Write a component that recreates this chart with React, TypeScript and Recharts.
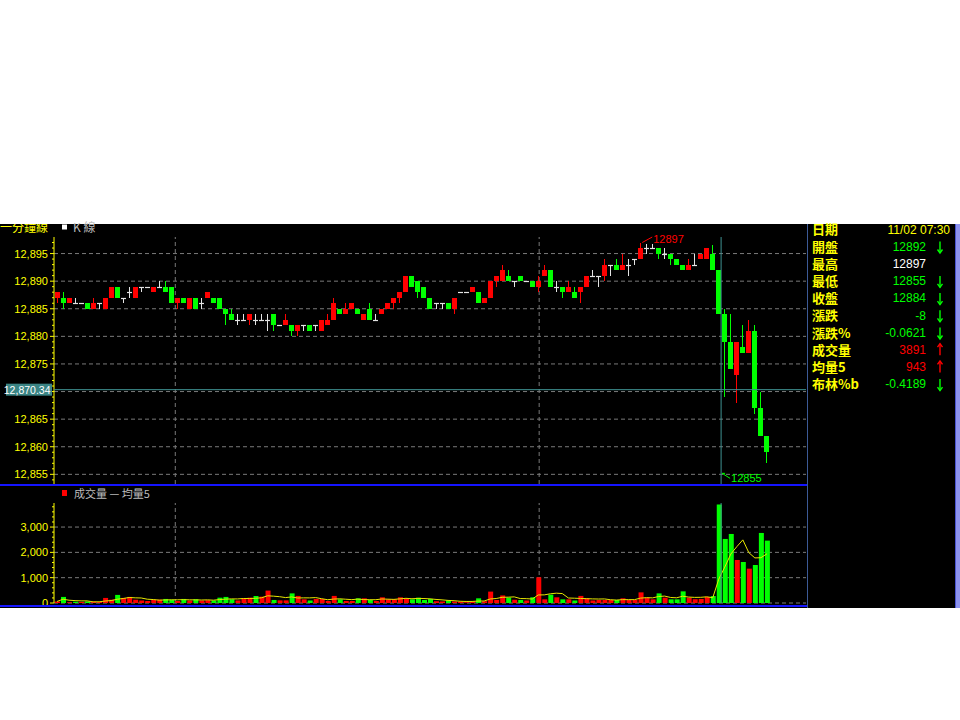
import React from "react";
import { ComposedChart, Bar, Line, XAxis, YAxis, ReferenceLine, ReferenceDot, Cell } from "recharts";

// 1-minute candles, 05:40 .. 07:38
const opens = [
  12887, 12887, 12886, 12886, 12886, 12886, 12885, 12886, 12885, 12887,
  12889, 12887, 12888, 12887, 12889, 12889, 12888, 12889, 12889, 12889,
  12886, 12887, 12885, 12887, 12886, 12887, 12887, 12887, 12885, 12884,
  12883, 12883, 12883, 12883, 12883, 12883, 12884, 12882, 12882, 12882,
  12881, 12882, 12882, 12882, 12881, 12882, 12883, 12885, 12884, 12885,
  12885, 12883, 12885, 12883, 12884, 12885, 12886, 12887, 12888, 12891,
  12890, 12889, 12887, 12886, 12886, 12886, 12885, 12888, 12888, 12888,
  12888, 12886, 12887, 12890, 12890, 12891, 12890, 12891, 12890, 12890,
  12889, 12891, 12892, 12889, 12889, 12888, 12888, 12888, 12889, 12891,
  12891, 12891, 12893, 12893, 12892, 12893, 12894, 12894, 12896, 12896,
  12896, 12895, 12895, 12894, 12893, 12892, 12893, 12894, 12894, 12895,
  12892, 12884, 12879, 12873, 12878, 12877, 12881, 12867, 12862,
];
const highs = [
  12888, 12888, 12887, 12887, 12886, 12886, 12887, 12886, 12887, 12889,
  12889, 12887, 12889, 12889, 12889, 12889, 12889, 12890, 12890, 12889,
  12887, 12887, 12887, 12887, 12887, 12888, 12887, 12887, 12885, 12885,
  12884, 12884, 12884, 12884, 12884, 12884, 12884, 12882, 12884, 12882,
  12882, 12882, 12882, 12882, 12883, 12884, 12887, 12885, 12886, 12886,
  12885, 12884, 12886, 12884, 12885, 12886, 12887, 12888, 12891, 12891,
  12890, 12889, 12887, 12886, 12886, 12886, 12887, 12888, 12888, 12889,
  12888, 12887, 12890, 12891, 12893, 12892, 12890, 12891, 12890, 12890,
  12891, 12893, 12892, 12890, 12889, 12890, 12889, 12889, 12891, 12892,
  12891, 12894, 12893, 12894, 12895, 12894, 12894, 12897, 12896.8, 12896.8,
  12896, 12896, 12895, 12894, 12893, 12894, 12895, 12895, 12896, 12896.6,
  12892, 12885, 12884, 12879, 12882, 12883, 12882, 12870, 12862,
];
const lows = [
  12886, 12885, 12886, 12886, 12886, 12885, 12885, 12885, 12885, 12887,
  12887, 12886, 12887, 12887, 12888, 12889, 12888, 12889, 12888, 12886,
  12885, 12886, 12885, 12885, 12885, 12887, 12886, 12885, 12882, 12883,
  12882, 12883, 12882, 12882, 12883, 12881, 12881, 12882, 12882, 12880,
  12880, 12881, 12881, 12881, 12881, 12882, 12883, 12884, 12884, 12885,
  12884, 12883, 12883, 12883, 12884, 12885, 12885, 12886, 12888, 12889,
  12887, 12887, 12885, 12885, 12885, 12885, 12884, 12888, 12888, 12888,
  12886, 12886, 12887, 12889, 12890, 12890, 12889, 12890, 12890, 12889,
  12888, 12891, 12889, 12888, 12887, 12888, 12887, 12886, 12889, 12891,
  12889, 12890, 12891, 12892, 12892, 12891, 12893, 12894, 12895, 12896,
  12894, 12894, 12893, 12893, 12892, 12892, 12893, 12894, 12894, 12892,
  12884, 12869, 12874, 12868, 12877, 12877, 12866, 12862, 12857,
];
const closes = [
  12888, 12886, 12887, 12886, 12886, 12885, 12886, 12886, 12887, 12889,
  12887, 12887, 12888, 12889, 12889, 12889, 12889, 12889, 12888, 12886,
  12887, 12886, 12887, 12885, 12886, 12888, 12886, 12885, 12884, 12883,
  12883, 12883, 12884, 12883, 12883, 12883, 12882, 12882, 12883, 12881,
  12882, 12882, 12881, 12882, 12883, 12883, 12886, 12884, 12885, 12886,
  12884, 12884, 12883, 12883, 12885, 12886, 12887, 12888, 12891, 12889,
  12888, 12887, 12885, 12886, 12886, 12885, 12887, 12888, 12888, 12889,
  12886, 12887, 12890, 12891, 12892, 12890, 12890, 12890, 12890, 12889,
  12890, 12892, 12889, 12889, 12888, 12889, 12887, 12889, 12891, 12891,
  12891, 12893, 12893, 12892, 12893, 12893, 12894, 12896, 12896, 12896,
  12895, 12895, 12894, 12893, 12892, 12893, 12893, 12895, 12896, 12892,
  12884, 12879, 12874, 12879, 12877, 12881, 12867, 12862, 12859,
];
const volumes = [
  60, 240, 30, 50, 40, 60, 50, 40, 200, 130,
  320, 200, 240, 130, 100, 80, 130, 130, 160, 130,
  80, 160, 100, 150, 100, 110, 100, 210, 240, 150,
  100, 190, 210, 280, 250, 490, 120, 105, 105, 380,
  280, 145, 100, 160, 160, 80, 280, 145, 80, 80,
  185, 185, 120, 80, 225, 145, 145, 225, 185, 145,
  210, 120, 160, 70, 60, 105, 60, 50, 30, 60,
  185, 70, 450, 120, 300, 210, 130, 120, 100, 225,
  1015, 145, 330, 225, 145, 145, 100, 280, 185, 100,
  120, 120, 120, 120, 185, 120, 120, 420, 210, 145,
  380, 210, 145, 145, 460, 210, 150, 160, 240, 275,
  3891, 2530, 2727, 1700, 1620, 1357, 1500, 2767, 2464,
];

// info panel
const infoLabels = ["日期", "開盤", "最高", "最低", "收盤", "漲跌", "漲跌%", "成交量", "均量5", "布林%b"];
const infoValues = ["11/02 07:30", "12892", "12897", "12855", "12884", "-8", "-0.0621", "3891", "943", "-0.4189"];
const infoDirs = ["", "down", "", "down", "down", "down", "down", "up", "up", "down"];

const hourMarks = ["06:00", "07:00"];
const cursorTime = "07:30";
const cursorPrice = 12870.34;
const lowMark = 12855;

const SLOTS = 125;
const START = 5 * 60 + 40;
const pad = (n: number) => String(n).padStart(2, "0");
const times = Array.from({ length: SLOTS }, (_, i) => `${pad(Math.floor((START + i) / 60))}:${pad((START + i) % 60)}`);

const YELLOW = "#ffff00";
const RED = "#ff0000";
const GREEN = "#00ff00";
const DOJI = "#e4e4e4";
const GRID = "#7a7a7a";
const CURSOR = "#3f9292";
const NUM_FONT = "'Liberation Sans', Arial, sans-serif";
const CJK_FONT = "'Noto Sans CJK TC', 'Noto Sans CJK SC', sans-serif";

const rows = times.map((t, i) => {
  if (i >= opens.length) return { t } as any;
  const o = opens[i], c = closes[i];
  const prev = i > 0 ? closes[i - 1] : o;
  const win = volumes.slice(Math.max(0, i - 4), i + 1);
  return {
    t, o, h: highs[i], l: lows[i], c,
    range: [lows[i], highs[i]],
    v: volumes[i],
    ma: win.reduce((a, b) => a + b, 0) / win.length,
    vColor: c > o ? RED : c < o ? GREEN : c >= prev ? RED : GREEN,
  };
});

const hiVal = Math.max(...highs);
const hiIdx = highs.indexOf(hiVal);

const priceDomain: [number, number] = [12853.25, 12898];
const priceTicks = Array.from({ length: 44 }, (_, i) => 12854 + i);
const priceGrid = [12855, 12860, 12865, 12870, 12875, 12880, 12885, 12890, 12895];
const volDomain: [number, number] = [0, 3950];
const volTicks = Array.from({ length: 20 }, (_, i) => i * 200);
const volGrid = [0, 1000, 2000, 3000];

const W = 806;
const PRICE_H = 260;
const VOL_H = 122;
const priceMargin = { top: 13, right: 0, bottom: 0, left: 0 };
const volMargin = { top: 17, right: 0, bottom: 5, left: 0 };

function AxisTick({ x, y, payload, step, hideValue }: any) {
  const v = payload.value as number;
  const major = v % step === 0;
  return (
    <g>
      <line x1={x - (major ? 4 : 2)} x2={x} y1={y} y2={y} stroke={YELLOW} />
      {major && v !== hideValue && (
        <text x={x - 6} y={y} dy={4} textAnchor="end" fill={YELLOW} fontSize={11} fontFamily={NUM_FONT}>
          {v.toLocaleString("en-US")}
        </text>
      )}
    </g>
  );
}

function Candle(props: any) {
  const { x, y, width, height, payload } = props;
  if (!payload || payload.o == null) return null;
  const { o, h, l, c } = payload;
  const top = Math.min(y, y + height);
  const span = Math.abs(height);
  const k = h > l ? span / (h - l) : 0;
  const py = (v: number) => top + (h - v) * k;
  const cx = Math.round(x + width / 2 - 0.5) + 0.5;
  const color = c > o ? RED : c < o ? GREEN : DOJI;
  const bTop = Math.round(py(Math.max(o, c)));
  const bBot = Math.round(py(Math.min(o, c)));
  return (
    <g>
      {h > l && <line x1={cx} x2={cx} y1={Math.round(py(h))} y2={Math.round(py(l))} stroke={color} strokeWidth={1} />}
      {o === c ? (
        <line x1={cx - 2.5} x2={cx + 2.5} y1={bTop + 0.5} y2={bTop + 0.5} stroke={color} strokeWidth={1.2} />
      ) : (
        <rect x={cx - 2.5} y={bTop} width={5} height={Math.max(1, bBot - bTop)} fill={color} />
      )}
    </g>
  );
}

const CursorLabel = (props: any) => {
  const vb = props.viewBox || {};
  return (
    <g>
      <rect x={vb.x - 48} y={vb.y - 6} width={46} height={12} fill="#3a8484" />
      <text x={vb.x - 3.5} y={vb.y + 4} textAnchor="end" fill="#ffffff" fontSize={10.5} fontFamily={NUM_FONT}>
        {cursorPrice.toLocaleString("en-US", { minimumFractionDigits: 2 })}
      </text>
    </g>
  );
};

const HighMark = ({ cx, cy }: any) => (
  <g>
    <line x1={cx} y1={cy} x2={cx + 10} y2={cy - 5.5} stroke={RED} />
    <text x={cx + 11} y={cy} fill={RED} fontSize={11} fontFamily={NUM_FONT}>{hiVal}</text>
  </g>
);

const LowMark = ({ cx, cy }: any) => (
  <g>
    <line x1={cx + 1} y1={cy - 1} x2={cx + 9} y2={cy + 4} stroke={GREEN} />
    <line x1={cx + 1} y1={cy - 1} x2={cx + 4} y2={cy - 1} stroke={GREEN} />
    <text x={cx + 10} y={cy + 7.5} fill={GREEN} fontSize={11} fontFamily={NUM_FONT}>{lowMark}</text>
  </g>
);

function PriceFrame({ axis, children }: { axis?: boolean; children?: React.ReactNode }) {
  return (
    <ComposedChart width={W} height={PRICE_H} data={rows} margin={priceMargin} barCategoryGap={0} barGap={0}>
      <XAxis dataKey="t" hide />
      <YAxis
        type="number"
        domain={priceDomain}
        allowDataOverflow
        ticks={priceTicks}
        interval={0}
        width={54}
        axisLine={axis ? { stroke: YELLOW } : false}
        tickLine={false}
        tickSize={0}
        tickMargin={0}
        tick={axis ? (p: any) => <AxisTick {...p} step={5} hideValue={Math.round(cursorPrice)} /> : false}
      />
      {children}
    </ComposedChart>
  );
}

function VolFrame({ axis, children }: { axis?: boolean; children?: React.ReactNode }) {
  return (
    <ComposedChart width={W} height={VOL_H} data={rows} margin={volMargin} barCategoryGap={0} barGap={0}>
      <XAxis dataKey="t" hide />
      <YAxis
        type="number"
        domain={volDomain}
        allowDataOverflow
        ticks={volTicks}
        interval={0}
        width={54}
        axisLine={axis ? { stroke: YELLOW } : false}
        tickLine={false}
        tickSize={0}
        tickMargin={0}
        tick={axis ? (p: any) => <AxisTick {...p} step={1000} /> : false}
      />
      {children}
    </ComposedChart>
  );
}

const layer = (top: number): React.CSSProperties => ({ position: "absolute", left: 0, top });

export default function App() {
  const rowY = (i: number) => 229.3 + i * 17.2;
  return (
    <div style={{ position: "absolute", left: 0, top: 0, width: 960, height: 720, background: "#ffffff", overflow: "hidden" }}>
      <svg width={960} height={720} style={layer(0)}>
        <rect x={0} y={224} width={808} height={384} fill="#000000" />
        <rect x={808} y={224} width={147} height={384} fill="#000000" />
        <rect x={955} y={224} width={5} height={384} fill="#8d93ee" />
        <line x1={955.5} x2={955.5} y1={224} y2={608} stroke="#4a55d0" />
      </svg>

      {/* price panel */}
      <div style={layer(224)}>
        <PriceFrame>
          {priceGrid.map((v) => (
            <ReferenceLine key={v} y={v} stroke={GRID} strokeDasharray="4 3" />
          ))}
          {hourMarks.map((t) => (
            <ReferenceLine key={t} x={t} stroke={GRID} strokeDasharray="4 3" />
          ))}
        </PriceFrame>
      </div>
      <div style={layer(224)}>
        <PriceFrame axis>
          <Bar dataKey="range" isAnimationActive={false} shape={(p: any) => <Candle {...p} />} />
        </PriceFrame>
      </div>
      <div style={layer(224)}>
        <PriceFrame>
          <ReferenceLine y={cursorPrice} stroke={CURSOR} label={CursorLabel} />
          <ReferenceLine x={cursorTime} stroke={CURSOR} />
          <ReferenceDot x={times[hiIdx]} y={hiVal} shape={HighMark} />
          <ReferenceDot x={cursorTime} y={lowMark} shape={LowMark} />
        </PriceFrame>
      </div>

      {/* volume panel */}
      <div style={layer(486)}>
        <VolFrame>
          {volGrid.map((v) => (
            <ReferenceLine key={v} y={v} stroke={GRID} strokeDasharray="4 3" />
          ))}
          {hourMarks.map((t) => (
            <ReferenceLine key={t} x={t} stroke={GRID} strokeDasharray="4 3" />
          ))}
        </VolFrame>
      </div>
      <div style={layer(486)}>
        <VolFrame axis>
          <Bar dataKey="v" barSize={5} isAnimationActive={false}>
            {rows.map((r, i) => (
              <Cell key={i} fill={r.vColor || "transparent"} />
            ))}
          </Bar>
          <Line dataKey="ma" stroke="#e8e800" strokeWidth={1} dot={false} activeDot={false} isAnimationActive={false} />
        </VolFrame>
      </div>
      <div style={layer(486)}>
        <VolFrame>
          <ReferenceLine x={cursorTime} stroke={CURSOR} />
        </VolFrame>
      </div>

      <svg width={960} height={720} style={{ ...layer(0), pointerEvents: "none" }}>
        <defs>
          <clipPath id="hdr">
            <rect x={0} y={224} width={808} height={20} />
          </clipPath>
        </defs>
        <g clipPath="url(#hdr)">
          <text x={0} y={231.5} fill={YELLOW} fontSize={12} fontFamily={CJK_FONT}>一分鐘線</text>
        </g>
        <rect x={62} y={224.5} width={5} height={5} fill="#ffffff" />
        <text x={73} y={231.5} fill="#bdbdbd" fontSize={12} fontFamily={CJK_FONT}>K 線</text>

        <rect x={62} y={490} width={5} height={6} fill={RED} />
        <text x={74} y={497.5} fill="#bdbdbd" fontSize={11} fontFamily={CJK_FONT}>成交量 — 均量5</text>

        <line x1={0} x2={807} y1={485} y2={485} stroke="#1414ff" strokeWidth={2} />
        <line x1={0} x2={807} y1={606} y2={606} stroke="#1414ff" strokeWidth={2} />
        <line x1={807.5} x2={807.5} y1={224} y2={608} stroke="#3c5a96" />

        {infoLabels.map((lab, i) => {
          const cy = rowY(i);
          const dir = infoDirs[i];
          const color = i === 0 ? YELLOW : dir === "down" ? GREEN : dir === "up" ? RED : "#ffffff";
          return (
            <g key={lab}>
              <text x={812} y={cy + 5} fill={YELLOW} fontSize={13} fontWeight="bold" fontFamily={CJK_FONT}>{lab}</text>
              <text x={i === 0 ? 950 : 926} y={cy + 4.3} textAnchor="end" fill={color} fontSize={12} fontFamily={NUM_FONT}>
                {infoValues[i]}
              </text>
              {dir === "down" && (
                <g stroke={GREEN} strokeWidth={1.4} fill="none">
                  <line x1={940} x2={940} y1={cy - 5} y2={cy + 6.5} />
                  <polyline points={`${937.5},${cy + 3} 940,${cy + 6.5} ${942.5},${cy + 3}`} />
                </g>
              )}
              {dir === "up" && (
                <g stroke={RED} strokeWidth={1.4} fill="none">
                  <line x1={940} x2={940} y1={cy - 6} y2={cy + 5.5} />
                  <polyline points={`${937.5},${cy - 2.5} 940,${cy - 6} ${942.5},${cy - 2.5}`} />
                </g>
              )}
            </g>
          );
        })}
      </svg>
    </div>
  );
}
